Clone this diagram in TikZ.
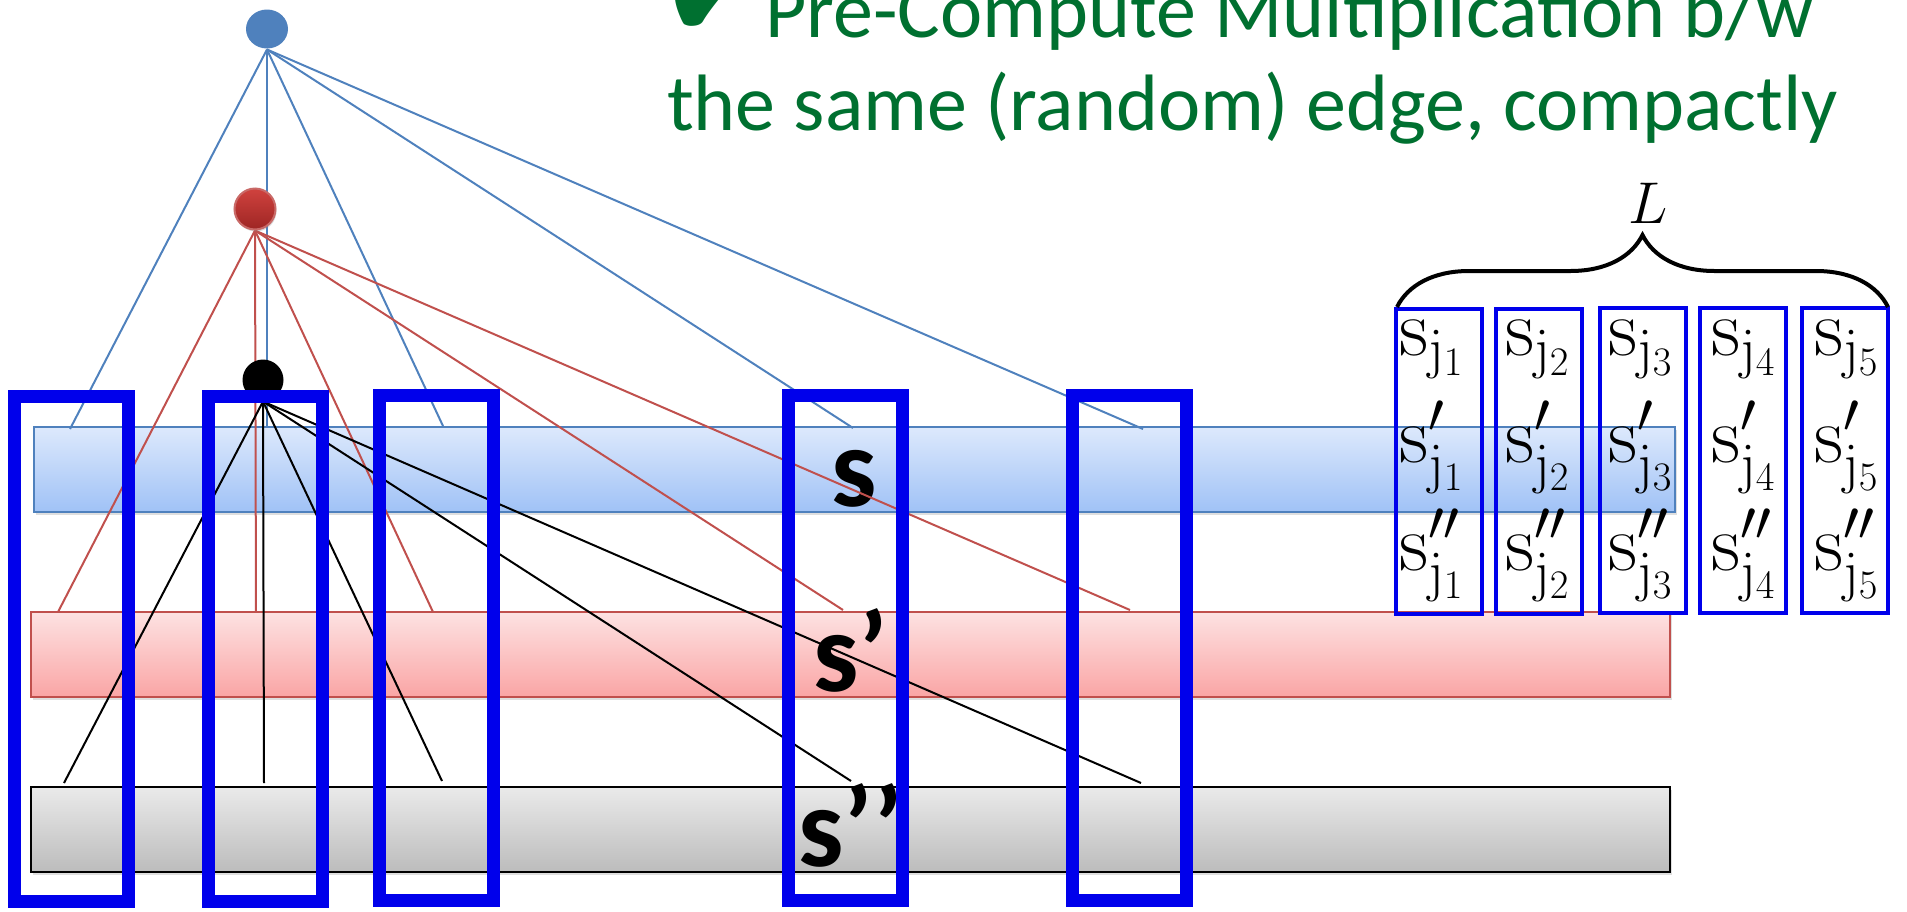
\documentclass[tikz,border=0pt]{standalone}
\usepackage{fix-cm}
\usepackage[no-math]{fontspec}
\setmainfont{Carlito}
\newfontfamily\symfont{DejaVu Sans}
\usetikzlibrary{%
  decorations.pathreplacing,% brace
  shapes.geometric,% ellipse
  shadows,%
  positioning%
}

\definecolor{nodeblue}{RGB}{79,129,189}
\definecolor{nodered}{RGB}{192,80,77}
\definecolor{hitblue}{RGB}{0,0,235}
\definecolor{titlegreen}{RGB}{0,112,48}
\definecolor{bartopblue}{RGB}{221,233,252}
\definecolor{barbotblue}{RGB}{160,194,246}
\definecolor{bartopred}{RGB}{253,226,226}
\definecolor{barbotred}{RGB}{250,165,165}
\definecolor{bartopgray}{RGB}{234,234,234}
\definecolor{barbotgray}{RGB}{188,188,188}

\begin{document}
\begin{tikzpicture}
[x=1pt, y=-1pt, line width=2pt,
bar/.style={rectangle, inner sep=0pt, minimum height=85pt, text height=74pt, text depth=0pt,
  font=\fontsize{114}{120}\selectfont\bfseries,
  drop shadow={opacity=0.25, shadow xshift=2pt, shadow yshift=-3pt}},
bar0/.style={bar, draw=nodeblue, top color=bartopblue, bottom color=barbotblue, minimum width=1641pt},
bar1/.style={bar, draw=nodered, top color=bartopred, bottom color=barbotred, minimum width=1639pt},
bar2/.style={bar, draw=black, top color=bartopgray, bottom color=barbotgray, minimum width=1639pt},
edgeb/.style={draw=nodeblue},
edger/.style={draw=nodered},
edgek/.style={draw=black},
dot/.style={circle, inner sep=0pt, minimum size=41pt},
hitbox/.style={rectangle, draw=hitblue, line width=13pt, inner sep=0pt, minimum width=114pt, minimum height=505pt},
slot/.style={rectangle, draw=hitblue, line width=4pt, inner sep=0pt, minimum width=86pt, minimum height=305pt},
entry/.style={anchor=base west, inner sep=0pt, font=\fontsize{81}{90}\selectfont},
title/.style={anchor=base west, inner sep=0pt, text=titlegreen, font=\fontsize{80}{96}\selectfont}]

\useasboundingbox (0,0) rectangle (1907,911);
\clip (0,0) rectangle (1907,911);

% the three layers s, s', s''
\node[bar0] (bar0) at (854.5,469) {s};
\node[bar1] (bar1) at (850.5,654.5) {s’};
\node[bar2] (bar2) at (850.5,829.5) {s’’};

% where the edges hit each layer
\coordinate (ba1) at (70,429);
\coordinate (ba2) at (267,427);
\coordinate (ba3) at (443,426);
\coordinate (ba4) at (853,428);
\coordinate (ba5) at (1143,429);

\coordinate (ra1) at (58,612);
\coordinate (ra2) at (256,612);
\coordinate (ra3) at (433,612);
\coordinate (ra4) at (843,610);
\coordinate (ra5) at (1130,610);

\coordinate (ka1) at (64,783);
\coordinate (ka2) at (264,783);
\coordinate (ka3) at (442,781);
\coordinate (ka4) at (851,781);
\coordinate (ka5) at (1141,783);

% parents
\node[ellipse, inner sep=0pt, minimum width=42pt, minimum height=39pt] (top) at (267,29) {};
\node[dot] (mid) at (255,209) {};
\node[dot] (low) at (263,380) {};

\draw[edgeb] (top.south) -- (ba1);
\draw[edgeb] (top.south) -- (ba2);
\draw[edgeb] (top.south) -- (ba3);
\draw[edgeb] (top.south) -- (ba4);
\draw[edgeb] (top.south) -- (ba5);

\draw[edger] (mid.south) -- (ra1);
\draw[edger] (mid.south) -- (ra2);
\draw[edger] (mid.south) -- (ra3);
\draw[edger] (mid.south) -- (ra4);
\draw[edger] (mid.south) -- (ra5);

\draw[edgek] (low.south) -- (ka1);
\draw[edgek] (low.south) -- (ka2);
\draw[edgek] (low.south) -- (ka3);
\draw[edgek] (low.south) -- (ka4);
\draw[edgek] (low.south) -- (ka5);

\node[ellipse, inner sep=0pt, minimum width=42pt, minimum height=39pt, fill=nodeblue] at (top) {};
\node[dot, draw=nodered!85!white, top color={rgb,255:red,208;green,66;blue,62},
  bottom color={rgb,255:red,158;green,38;blue,36},
  drop shadow={opacity=0.3, shadow xshift=1pt, shadow yshift=-2pt}] at (mid) {};
\node[dot, fill=black] at (low) {};

% sampled columns
\node[hitbox] (col1) at (71,649) {};
\node[hitbox] (col2) at (265.5,649) {};
\node[hitbox] (col3) at (436.5,648) {};
\node[hitbox] (col4) at (845.5,648) {};
\node[hitbox] (col5) at (1129.5,648) {};

% stored columns
\node[slot] (k1) at (1438.5,461.5) {};
\node[slot] (k2) at (1539,461.5) {};
\node[slot] (k3) at (1642.5,460) {};
\node[slot] (k4) at (1743,460) {};
\node[slot] (k5) at (1845,460) {};

\node[entry] (e11) at (1398,355) {$\mathrm{s}_{\mathrm{j}_1}$};
\node[entry] (e12) at (1504,355) {$\mathrm{s}_{\mathrm{j}_2}$};
\node[entry] (e13) at (1607,355) {$\mathrm{s}_{\mathrm{j}_3}$};
\node[entry] (e14) at (1710,355) {$\mathrm{s}_{\mathrm{j}_4}$};
\node[entry] (e15) at (1813,355) {$\mathrm{s}_{\mathrm{j}_5}$};

\node[entry] (e21) at (1398,462) {$\mathrm{s}'_{\mathrm{j}_1}$};
\node[entry] (e22) at (1504,462) {$\mathrm{s}'_{\mathrm{j}_2}$};
\node[entry] (e23) at (1607,462) {$\mathrm{s}'_{\mathrm{j}_3}$};
\node[entry] (e24) at (1710,462) {$\mathrm{s}'_{\mathrm{j}_4}$};
\node[entry] (e25) at (1813,462) {$\mathrm{s}'_{\mathrm{j}_5}$};

\node[entry] (e31) at (1398,570) {$\mathrm{s}''_{\mathrm{j}_1}$};
\node[entry] (e32) at (1504,570) {$\mathrm{s}''_{\mathrm{j}_2}$};
\node[entry] (e33) at (1607,570) {$\mathrm{s}''_{\mathrm{j}_3}$};
\node[entry] (e34) at (1710,570) {$\mathrm{s}''_{\mathrm{j}_4}$};
\node[entry] (e35) at (1813,570) {$\mathrm{s}''_{\mathrm{j}_5}$};

\coordinate (bl) at (1397,307);
\coordinate (br) at (1888,307);
\draw[line width=4pt, decorate, decoration={brace, amplitude=72pt}] (bl) -- (br);
\node[font=\fontsize{59}{60}\selectfont] (len) at (1648,203) {$L$};

% heading
\node[title] (head1) at (659,37) {{\symfont\fontsize{128}{128}\selectfont ✔}\hspace{-2pt}Pre-Compute Multiplication b/w};
\node[title] (head2) at (666,130) {the same (random) edge, compactly};

\end{tikzpicture}
\end{document}
